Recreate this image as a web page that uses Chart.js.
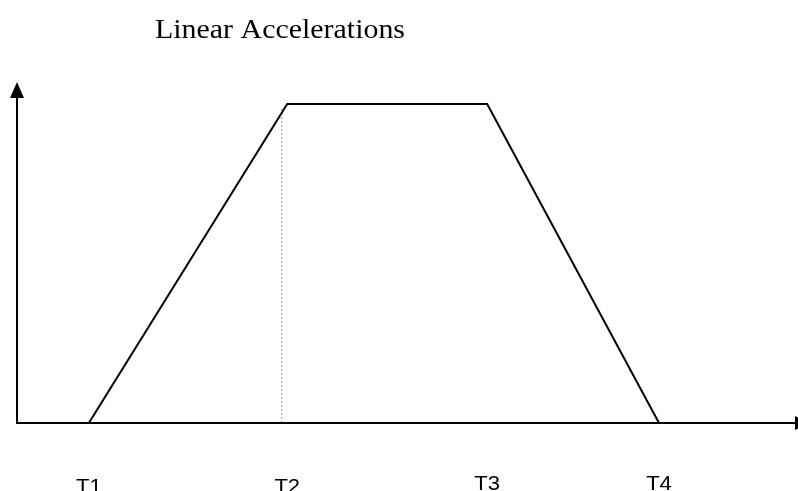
<!DOCTYPE html>
<html>
<head>
<meta charset="utf-8">
<script src="https://cdn.jsdelivr.net/npm/chart.js@4/dist/chart.umd.min.js"></script>
<style>
  html, body { margin: 0; padding: 0; background: #ffffff; }
  #wrap { width: 798px; height: 491px; position: relative; }
</style>
</head>
<body>
<div id="wrap"><canvas id="c" width="798" height="491"></canvas></div>
<script>
// ---- data ----
const chartTitle = 'Linear Accelerations';
const timeLabels = ['T1', 'T2', 'T3', 'T4'];
const timeValues = [9.2, 34.6, 60.2, 82.2];     // time of each corner (axis 0..100)
const accelValues = [0, 1, 1, 0];                // acceleration profile
const guideTimes = [33.9, 33.9];                 // dotted marker near T2
const guideAccel = [0, 0.99];
const xRange = [0, 100];
const yRange = [0, 1.069];

const profile = timeValues.map((t, i) => ({ x: t, y: accelValues[i] }));
const guide = guideTimes.map((t, i) => ({ x: t, y: guideAccel[i] }));

const decorPlugin = {
  id: 'decor',
  afterDraw(chart) {
    const { ctx, chartArea } = chart;
    const xs = chart.scales.x;
    const left = chartArea.left, bottom = chartArea.bottom, top = chartArea.top;
    ctx.save();
    ctx.fillStyle = '#000';
    ctx.strokeStyle = '#000';
    ctx.lineWidth = 2;
    // y axis
    ctx.beginPath();
    ctx.moveTo(left, bottom + 1);
    ctx.lineTo(left, top + 12);
    ctx.stroke();
    ctx.beginPath();
    ctx.moveTo(left, top);
    ctx.lineTo(left - 7, top + 16);
    ctx.lineTo(left + 7, top + 16);
    ctx.closePath();
    ctx.fill();
    // x axis
    ctx.beginPath();
    ctx.moveTo(left - 1, bottom);
    ctx.lineTo(chart.width - 2, bottom);
    ctx.stroke();
    ctx.beginPath();
    ctx.moveTo(chart.width + 12, bottom);
    ctx.lineTo(chart.width - 3, bottom - 7);
    ctx.lineTo(chart.width - 3, bottom + 7);
    ctx.closePath();
    ctx.fill();
    // time labels
    ctx.font = '20px "Liberation Sans", Arial, sans-serif';
    ctx.textAlign = 'center';
    ctx.textBaseline = 'alphabetic';
    timeLabels.forEach((lab, i) => {
      const px = xs.getPixelForValue(timeValues[i]);
      const py = i < 2 ? 492.5 : 489.5;
      ctx.save();
      ctx.translate(px, py);
      ctx.scale(1.1, 1);
      ctx.fillText(lab, 0, 0);
      ctx.restore();
    });
    // title
    ctx.font = '28px "Liberation Serif", "Times New Roman", serif';
    ctx.textAlign = 'left';
    ctx.textBaseline = 'middle';
    const w = ctx.measureText(chartTitle).width;
    const sx = 250 / w;
    ctx.translate(155, 31);
    ctx.scale(sx, 1);
    ctx.fillText(chartTitle, 0, 0);
    ctx.restore();
  }
};

new Chart(document.getElementById('c'), {
  type: 'scatter',
  data: {
    datasets: [
      {
        label: 'Acceleration',
        data: profile,
        showLine: true,
        borderColor: '#000',
        borderWidth: 2,
        pointRadius: 0,
        tension: 0,
        fill: false
      },
      {
        label: 'Marker',
        data: guide,
        showLine: true,
        borderColor: '#8c8c8c',
        borderWidth: 1,
        borderDash: [2, 2],
        pointRadius: 0,
        fill: false
      }
    ]
  },
  options: {
    responsive: false,
    animation: false,
    layout: { padding: { top: 82, left: 17, right: 0, bottom: 68 } },
    plugins: {
      legend: { display: false },
      title: { display: false },
      tooltip: { enabled: false }
    },
    scales: {
      x: { type: 'linear', display: false, min: xRange[0], max: xRange[1] },
      y: { type: 'linear', display: false, min: yRange[0], max: yRange[1] }
    }
  },
  plugins: [decorPlugin]
});
</script>
</body>
</html>
